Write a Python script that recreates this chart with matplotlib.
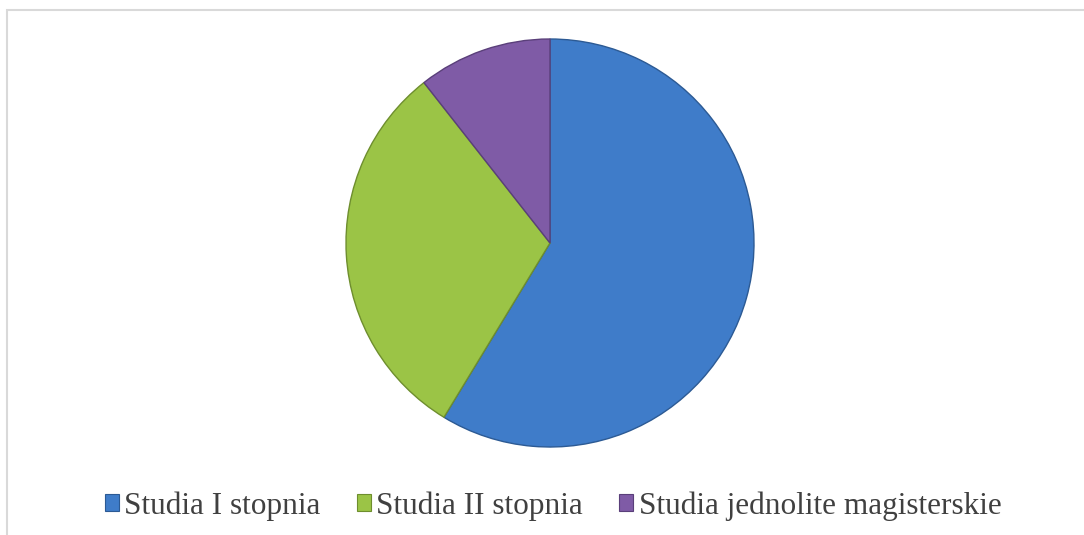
import matplotlib
matplotlib.use("Agg")
import matplotlib.pyplot as plt
from matplotlib.patches import Patch, Rectangle

# dane
labels = ["Studia I stopnia", "Studia II stopnia", "Studia jednolite magisterskie"]
values = [58.7, 30.7, 10.6]
colors = ["#3F7CC9", "#9BC446", "#7F5BA6"]
edges = ["#2C5A94", "#6E8E2E", "#5A3F7A"]

fig = plt.figure(figsize=(10.84, 5.35), dpi=100)
W, H = 1084, 535

# ramka wykresu
fig.patches.append(Rectangle((7 / W, -0.1), 1.2, 1 - 10 / H + 0.1,
                             transform=fig.transFigure, fill=False,
                             edgecolor="#D9D9D9", linewidth=1.5))

cx, cy, r = 550, 243, 204
ax = fig.add_axes([(cx - r) / W, (H - cy - r) / H, 2 * r / W, 2 * r / H])
wedges, _ = ax.pie(values, colors=colors, startangle=90, counterclock=False,
                   radius=1, wedgeprops=dict(linewidth=1.0))
for w, ec in zip(wedges, edges):
    w.set_edgecolor(ec)
ax.set_xlim(-1.0, 1.0)
ax.set_ylim(-1.0, 1.0)
ax.set_aspect("equal")
ax.axis("off")

handles = [Patch(facecolor=c, edgecolor=e, linewidth=0.8) for c, e in zip(colors, edges)]
fig.legend(handles, labels, loc="center", bbox_to_anchor=(553 / W, 1 - 506 / H),
           ncol=3, frameon=False, handlelength=0.45, handleheight=0.45,
           handletextpad=0.18, columnspacing=1.15,
           prop={"family": "Liberation Serif", "size": 22.5},
           labelcolor="#404040")

fig.savefig("out.png", dpi=100)
